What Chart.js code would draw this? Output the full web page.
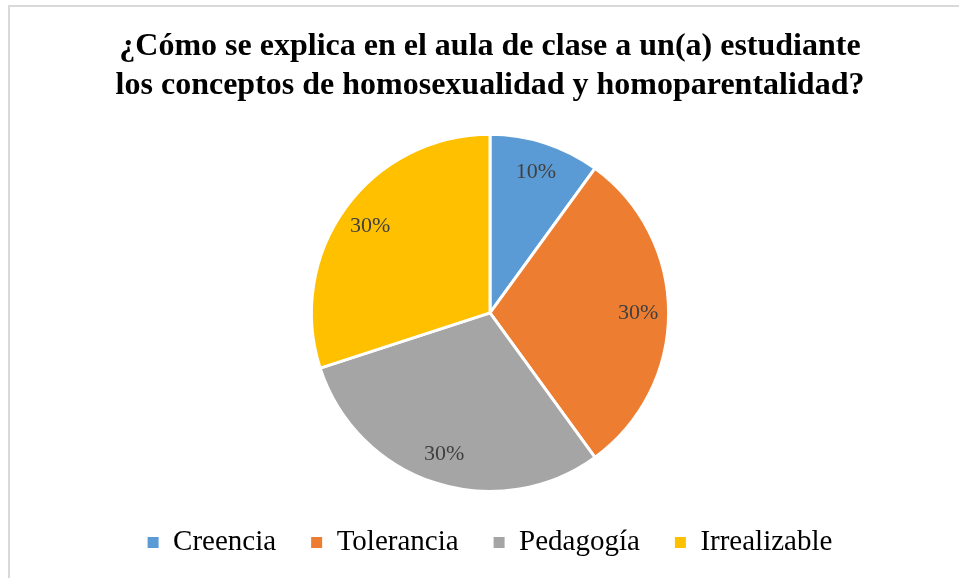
<!DOCTYPE html>
<html>
<head>
<meta charset="utf-8">
<script src="https://cdn.jsdelivr.net/npm/chart.js@4"></script>
<style>
	html, body { margin: 0; padding: 0; overflow: hidden; background: #fff; width: 959px; height: 578px; }
	#wrap { position: relative; width: 959px; height: 578px; }
	#frame { position: absolute; left: 8px; top: 5px; width: 2000px; height: 2000px; border: 2px solid #d9d9d9; pointer-events: none; }
</style>
</head>
<body>
<div id="wrap">
	<canvas id="myChart" width="959" height="578"></canvas>
	<div id="frame"></div>
</div>
<script>
// Variables
const categories = ["Creencia", "Tolerancia", "Pedagogía", "Irrealizable"];
const percentages = [10, 30, 30, 30];
const sliceColors = ["#5B9BD5", "#ED7D31", "#A5A5A5", "#FFC000"];
const titleLines = [
	"¿Cómo se explica en el aula de clase a un(a) estudiante",
	"los conceptos de homosexualidad y homoparentalidad?",
];
const serif = "'Liberation Serif', 'Times New Roman', serif";
const ctx = document.getElementById("myChart").getContext("2d");

// --------------------------- Data Labels ---------------------------
const sliceLabels = {
	id: "sliceLabels",
	afterDatasetsDraw(chart) {
		const c = chart.ctx;
		const meta = chart.getDatasetMeta(0);
		c.save();
		c.font = "22px " + serif;
		c.fillStyle = "#404040";
		c.textAlign = "center";
		c.textBaseline = "middle";
		meta.data.forEach((arc, i) => {
			const { x, y, startAngle, endAngle, outerRadius } = arc.getProps(["x", "y", "startAngle", "endAngle", "outerRadius"], true);
			const mid = (startAngle + endAngle) / 2;
			const r = outerRadius * 0.83;
			c.fillText(percentages[i] + "%", x + Math.cos(mid) * r, y + Math.sin(mid) * r);
		});
		c.restore();
	},
};

// --------------------------- Chart Object ---------------------------
const pieChart = new Chart(ctx, {
	type: "pie",
	data: {
		labels: categories,
		datasets: [
			{
				data: percentages,
				backgroundColor: sliceColors,
				borderColor: "#ffffff",
				borderWidth: 3,
			},
		],
	},
	options: {
		responsive: false,
		animation: false,
		layout: {
			padding: { left: 21, right: 0, top: 0, bottom: 11 },
		},
		plugins: {
			title: {
				display: true,
				text: titleLines,
				color: "#000000",
				font: { family: serif, size: 32, weight: "bold", lineHeight: 1.2 },
				padding: { top: 28, bottom: 28 },
			},
			legend: {
				position: "bottom",
				onClick: null,
				labels: {
					color: "#000000",
					font: { family: serif, size: 29 },
					boxWidth: 11,
					boxHeight: 11,
					padding: 35,
					generateLabels(chart) {
						const items = Chart.overrides.pie.plugins.legend.labels.generateLabels(chart);
						items.forEach((item) => {
							item.strokeStyle = item.fillStyle;
							item.lineWidth = 0;
						});
						return items;
					},
				},
			},
			tooltip: { enabled: false },
		},
	},
	plugins: [sliceLabels],
});
</script>
</body>
</html>
